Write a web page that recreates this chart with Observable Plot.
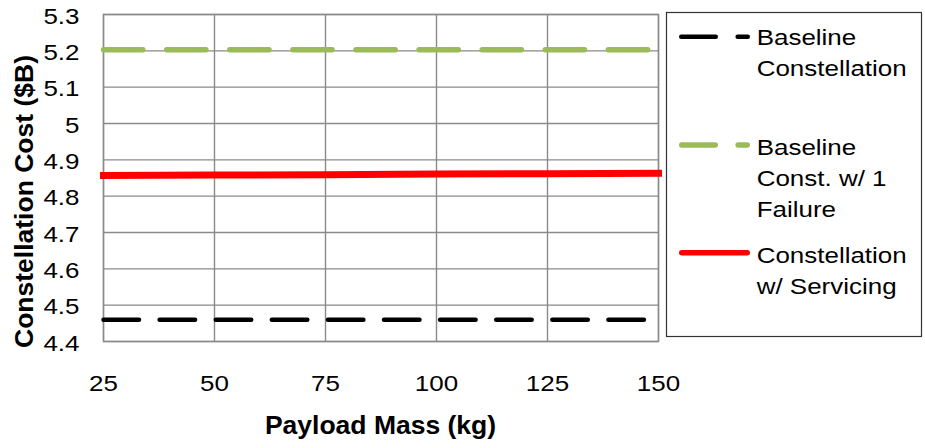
<!DOCTYPE html>
<html>
<head>
<meta charset="utf-8">
<script src="https://cdn.jsdelivr.net/npm/d3@7"></script>
<script src="https://cdn.jsdelivr.net/npm/@observablehq/plot@0.6"></script>
<style>
  html, body { margin: 0; padding: 0; background: #fff; }
  #chart svg { display: block; }
</style>
</head>
<body>
<div id="chart"></div>
<script>
// ---- data ----
const payloadMass = [25, 50, 75, 100, 125, 150];
const baselineConstellation = [4.46, 4.46, 4.46, 4.46, 4.46, 4.46];
const baselineOneFailure = [5.203, 5.203, 5.203, 5.203, 5.203, 5.203];
const withServicing = [4.857, 4.858, 4.859, 4.861, 4.862, 4.863];
const xTicks = [25, 50, 75, 100, 125, 150];
const yTicks = [4.4, 4.5, 4.6, 4.7, 4.8, 4.9, 5.0, 5.1, 5.2, 5.3];
const seriesNames = ["Baseline\nConstellation", "Baseline\nConst. w/ 1\nFailure", "Constellation\nw/ Servicing"];
const xTitle = "Payload Mass (kg)";
const yTitle = "Constellation Cost ($B)";

const styles = [
  {stroke: "#000000", strokeWidth: 4.5, strokeDasharray: "35.5,20.6", strokeLinecap: "round"},
  {stroke: "#9BBB59", strokeWidth: 5.3, strokeDasharray: "39.4,23.7", strokeLinecap: "round"},
  {stroke: "#FF0000", strokeWidth: 7, strokeLinecap: "square"}
];
// legend samples (slightly different dash rhythm/width in the reference)
const legendStyles = [
  {stroke: "#000000", width: 4.5, dash: "34.5,21.9"},
  {stroke: "#9BBB59", width: 5.3, dash: "33.7,22.7"},
  {stroke: "#FF0000", width: 5.5, dash: null}
];
const seriesData = [baselineConstellation, baselineOneFailure, withServicing];
const tables = seriesData.map(vals => payloadMass.map((x, i) => ({x, y: vals[i]})));

const FONT = "'Liberation Sans', Arial, Helvetica, sans-serif";
const SX = 1.18;

const chart = Plot.plot({
  width: 925,
  height: 448,
  marginLeft: 103,
  marginRight: 267,
  marginTop: 14,
  marginBottom: 107,
  style: {fontFamily: FONT, fontSize: "22px", color: "#000", background: "#fff"},
  x: {domain: [25, 150]},
  y: {domain: [4.4, 5.3]},
  marks: [
    Plot.gridY(yTicks, {stroke: "#8a8a8a", strokeOpacity: 1, strokeWidth: 1.4}),
    Plot.gridX(xTicks, {stroke: "#8a8a8a", strokeOpacity: 1, strokeWidth: 1.4}),
    Plot.frame({stroke: "#8a8a8a", strokeWidth: 1.4}),
    Plot.axisY(yTicks, {tickSize: 0, tickPadding: 24, dy: 2, label: null,
      tickFormat: d => String(+d.toFixed(1)), fill: "#000", fontSize: 22}),
    Plot.axisX(xTicks, {tickSize: 0, tickPadding: 34, label: null,
      tickFormat: d => String(d), fill: "#000", fontSize: 22}),
    ...tables.map((t, i) => Plot.lineY(t, {x: "x", y: "y", ...styles[i]}))
  ]
});

document.getElementById("chart").appendChild(chart);

const svg = d3.select(chart);

// Horizontal stretch on tick labels to match the reference's wide glyphs
svg.selectAll("g[aria-label$='tick label'] text").each(function() {
  const t = this.getAttribute("transform") || "";
  this.setAttribute("transform", t + ` scale(${SX},1)`);
});

// Axis titles
svg.append("text")
  .attr("x", 380.5).attr("y", 434)
  .attr("text-anchor", "middle")
  .attr("font-family", FONT).attr("font-size", 26.5).attr("font-weight", "bold")
  .attr("fill", "#000")
  .text(xTitle);

svg.append("text")
  .attr("transform", "translate(33,201.5) rotate(-90)")
  .attr("text-anchor", "middle")
  .attr("font-family", FONT).attr("font-size", 26.5).attr("font-weight", "bold")
  .attr("fill", "#000")
  .text(yTitle);

// Legend
const lg = svg.append("g").attr("aria-label", "legend").attr("text-anchor", "start");
lg.append("rect")
  .attr("x", 666.5).attr("y", 12.5).attr("width", 255).attr("height", 324)
  .attr("fill", "#fff").attr("stroke", "#333").attr("stroke-width", 1.2);

const legendLineY = [36.7, 145, 252.7];
const legendTextY = [45, 155, 263.3];
const lineGap = 30.8;
seriesNames.forEach((name, i) => {
  const s = legendStyles[i];
  lg.append("line")
    .attr("x1", 679 + s.width / 2).attr("x2", 750 - s.width / 2)
    .attr("y1", legendLineY[i]).attr("y2", legendLineY[i])
    .attr("stroke", s.stroke).attr("stroke-width", s.width)
    .attr("stroke-linecap", "round")
    .attr("stroke-dasharray", s.dash);
  name.split("\n").forEach((ln, j) => {
    lg.append("text")
      .attr("transform", `translate(756.7,${legendTextY[i] + j * lineGap}) scale(${SX},1)`)
      .attr("text-anchor", "start")
      .attr("font-family", FONT).attr("font-size", 22).attr("fill", "#000")
      .text(ln);
  });
});
</script>
</body>
</html>
